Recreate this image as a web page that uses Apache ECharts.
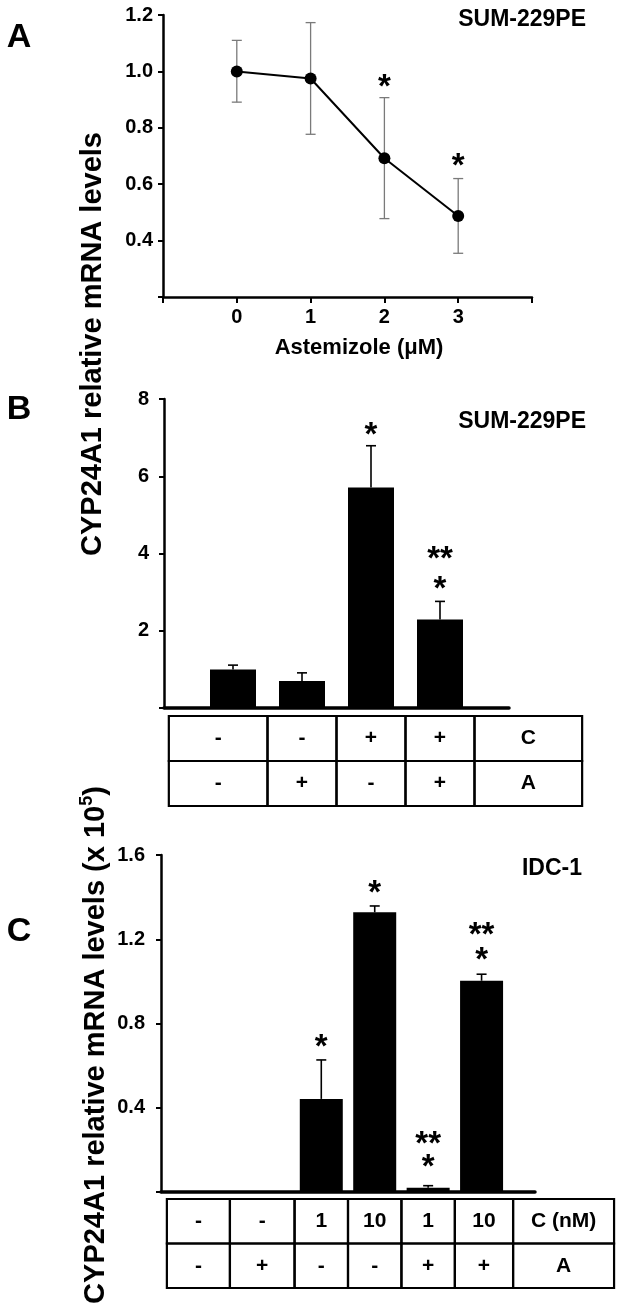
<!DOCTYPE html>
<html><head><meta charset="utf-8">
<script src="https://cdn.jsdelivr.net/npm/echarts@6/dist/echarts.min.js"></script>
<style>html,body{margin:0;padding:0;background:#fff}#c{width:620px;height:1309px}</style>
</head><body><div id="c"></div>
<script>
// ---------- data ----------
const doseA = [0, 1, 2, 3];
const meanA = [1.00, 0.975, 0.692, 0.487];
const errHiA = [1.110, 1.173, 0.907, 0.620];
const errLoA = [0.891, 0.777, 0.478, 0.355];
const starsA = [[2, 0.97, '*'], [3, 0.69, '*']];

const groupsB = [0, 1, 2, 3];
const valB = [1.00, 0.70, 5.71, 2.29];
const errB = [1.11, 0.91, 6.79, 2.76];
const starsB = [[2, 7.26, '*'], [3, 4.03, '**'], [3, 3.26, '*']];
const tableB = [['-', '-', '+', '+', 'C'], ['-', '+', '-', '+', 'A']];

const groupsC = [0, 1, 2, 3, 4, 5];
const valC = [0, 0, 0.442, 1.328, 0.020, 1.003];
const errC = [0, 0, 0.627, 1.358, 0.030, 1.034];
const starsC = [[2, 0.72, '*'], [3, 1.453, '*'], [4, 0.262, '**'], [4, 0.152, '*'], [5, 1.254, '**'], [5, 1.135, '*']];
const tableC = [['-', '-', '1', '10', '1', '10', 'C (nM)'], ['-', '+', '-', '-', '+', '+', 'A']];

// ---------- layout ----------
const FONT = '"Liberation Sans", Arial, Helvetica, sans-serif';
const edgesB = [-0.93, 0.5, 1.5, 2.5, 3.5, 5.06];
const edgesC = [-0.89, 0.29, 1.5, 2.5, 3.5, 4.5, 5.59, 7.48];
const tblGapB = 8, rowHB = 45, tblGapC = 7, rowHC = 44.5;
const tickFont = {fontFamily: FONT, fontWeight: 'bold', fontSize: 20, color: '#000'};

function yAx(gi, min, max, interval, fmt, margin) {
  return {type: 'value', gridIndex: gi, min, max, interval,
    axisLine: {show: true, onZero: false, lineStyle: {color: '#000', width: 2.5}},
    axisTick: {show: true, inside: false, length: 5, lineStyle: {color: '#000', width: 2}},
    axisLabel: Object.assign({margin: margin, formatter: fmt}, tickFont),
    splitLine: {show: false}};
}
function xAxBar(gi, min, max) {
  return {type: 'value', gridIndex: gi, min, max, interval: 1,
    axisLine: {show: true, onZero: false, lineStyle: {color: '#000', width: 3.5}},
    axisTick: {show: false}, axisLabel: {show: false}, splitLine: {show: false}};
}

function errRender(xs, lo, hi, color, width, cap, bothCaps) {
  return function (params, api) {
    const i = params.dataIndex;
    const pHi = api.coord([xs[i], hi[i]]);
    const pLo = api.coord([xs[i], lo[i]]);
    const st = {stroke: color, lineWidth: width};
    const ch = [
      {type: 'line', shape: {x1: pLo[0], y1: pLo[1], x2: pHi[0], y2: pHi[1]}, style: st},
      {type: 'line', shape: {x1: pHi[0] - cap, y1: pHi[1], x2: pHi[0] + cap, y2: pHi[1]}, style: st}
    ];
    if (bothCaps) ch.push({type: 'line', shape: {x1: pLo[0] - cap, y1: pLo[1], x2: pLo[0] + cap, y2: pLo[1]}, style: st});
    return {type: 'group', children: ch};
  };
}
function starRender(stars, size, dy) {
  return function (params, api) {
    const s = stars[params.dataIndex];
    const p = api.coord([s[0], s[1]]);
    return {type: 'text', x: p[0], y: p[1] + dy,
      style: {text: s[2], font: 'bold ' + size + 'px ' + FONT, fill: '#000',
        align: 'center', verticalAlign: 'middle', textAlign: 'center', textVerticalAlign: 'middle'}};
  };
}
function tableCells(tbl) {
  const out = [];
  tbl.forEach((row, r) => row.forEach((t, c) => out.push([c, r])));
  return out;
}
function tableRender(tbl, edges, gap, rowH, fontSize) {
  const cells = tableCells(tbl);
  return function (params, api) {
    const cell = cells[params.dataIndex];
    const c = cell[0], r = cell[1];
    const base = api.coord([0, 0])[1];
    const x0 = api.coord([edges[c], 0])[0];
    const x1 = api.coord([edges[c + 1], 0])[0];
    const y0 = base + gap + r * rowH;
    return {type: 'group', children: [
      {type: 'rect', shape: {x: x0, y: y0, width: x1 - x0, height: rowH},
        style: {fill: 'none', stroke: '#000', lineWidth: 2.2}},
      {type: 'text', x: (x0 + x1) / 2, y: y0 + rowH / 2,
        style: {text: tbl[r][c], font: 'bold ' + fontSize + 'px ' + FONT, fill: '#000',
          align: 'center', verticalAlign: 'middle', textAlign: 'center', textVerticalAlign: 'middle'}}
    ]};
  };
}
function gtext(x, y, text, size, align, extra) {
  return Object.assign({type: 'text', x, y, style: {text, font: 'bold ' + size + 'px ' + FONT, fill: '#000',
    align: align || 'center', verticalAlign: 'middle', textAlign: align || 'center', textVerticalAlign: 'middle'}}, extra || {});
}

const option = {
  backgroundColor: '#fff',
  animation: false,
  grid: [
    {left: 163, top: 15, width: 369, height: 282},
    {left: 164, top: 399, width: 345, height: 309},
    {left: 161, top: 855, width: 374, height: 337}
  ],
  xAxis: [
    {type: 'value', gridIndex: 0, min: -1, max: 4, interval: 1,
      axisLine: {show: true, onZero: false, lineStyle: {color: '#000', width: 2.5}},
      axisTick: {show: true, length: 6, lineStyle: {color: '#000', width: 2}},
      axisLabel: Object.assign({margin: 10, formatter: v => (v >= 0 && v <= 3) ? String(v) : ''}, tickFont),
      splitLine: {show: false}},
    xAxBar(1, -1, 4),
    xAxBar(2, -1, 6)
  ],
  yAxis: [
    yAx(0, 0.2, 1.2, 0.2, v => v < 0.3 ? '' : v.toFixed(1), 10),
    yAx(1, 0, 8, 2, v => v === 0 ? '' : String(v), 15),
    yAx(2, 0, 1.6, 0.4, v => v === 0 ? '' : v.toFixed(1), 16)
  ],
  series: [
    {type: 'custom', xAxisIndex: 0, yAxisIndex: 0, z: 1,
      data: doseA.map((d, i) => [d, meanA[i]]),
      renderItem: errRender(doseA, errLoA, errHiA, '#7a7a7a', 1.3, 5, true)},
    {type: 'line', xAxisIndex: 0, yAxisIndex: 0, z: 3,
      data: doseA.map((d, i) => [d, meanA[i]]),
      symbol: 'circle', symbolSize: 12, itemStyle: {color: '#000'},
      lineStyle: {color: '#000', width: 2}},
    {type: 'custom', xAxisIndex: 0, yAxisIndex: 0, z: 4,
      data: starsA.map(s => [s[0], s[1]]), renderItem: starRender(starsA, 33, 8)},

    {type: 'bar', xAxisIndex: 1, yAxisIndex: 1, barWidth: 46, z: 2,
      data: groupsB.map((g, i) => [g, valB[i]]), itemStyle: {color: '#000'}},
    {type: 'custom', xAxisIndex: 1, yAxisIndex: 1, z: 1,
      data: groupsB.map((g, i) => [g, errB[i]]),
      renderItem: errRender(groupsB, valB, errB, '#000', 1.6, 5, false)},
    {type: 'custom', xAxisIndex: 1, yAxisIndex: 1, z: 4,
      data: starsB.map(s => [s[0], s[1]]), renderItem: starRender(starsB, 33, 8)},
    {type: 'custom', xAxisIndex: 1, yAxisIndex: 1, z: 4, clip: false,
      data: tableCells(tableB), renderItem: tableRender(tableB, edgesB, tblGapB, rowHB, 21)},

    {type: 'bar', xAxisIndex: 2, yAxisIndex: 2, barWidth: 43, z: 2,
      data: groupsC.map((g, i) => [g, valC[i]]), itemStyle: {color: '#000'}},
    {type: 'custom', xAxisIndex: 2, yAxisIndex: 2, z: 1,
      data: groupsC.map((g, i) => [g, errC[i]]),
      renderItem: errRender(groupsC, valC, errC, '#000', 1.6, 5, false)},
    {type: 'custom', xAxisIndex: 2, yAxisIndex: 2, z: 4,
      data: starsC.map(s => [s[0], s[1]]), renderItem: starRender(starsC, 33, 8)},
    {type: 'custom', xAxisIndex: 2, yAxisIndex: 2, z: 4, clip: false,
      data: tableCells(tableC), renderItem: tableRender(tableC, edgesC, tblGapC, rowHC, 21)}
  ],
  graphic: [
    gtext(19, 38, 'A', 34),
    gtext(19, 410, 'B', 34),
    gtext(19, 932, 'C', 34),
    gtext(586, 20, 'SUM-229PE', 23, 'right'),
    gtext(586, 422, 'SUM-229PE', 23, 'right'),
    gtext(582, 869, 'IDC-1', 23, 'right'),
    gtext(359, 348, 'Astemizole (\u03bcM)', 22),
    gtext(93, 344, 'CYP24A1 relative mRNA levels', 29, 'center', {rotation: Math.PI / 2}),
    {type: 'text', x: 93, y: 1045, rotation: Math.PI / 2,
      style: {text: '{t|CYP24A1 relative mRNA levels (x 10}{s|5}{t|)}',
        align: 'center', verticalAlign: 'middle', textAlign: 'center', textVerticalAlign: 'middle',
        rich: {
          t: {font: 'bold 29px ' + FONT, fill: '#000', lineHeight: 34, verticalAlign: 'bottom'},
          s: {font: 'bold 18px ' + FONT, fill: '#000', lineHeight: 34, verticalAlign: 'top', padding: [2, 0, 0, 0]}
        }}}
  ]
};
const chart = echarts.init(document.getElementById('c'), null, {renderer: 'canvas'});
chart.setOption(option);
</script></body></html>
